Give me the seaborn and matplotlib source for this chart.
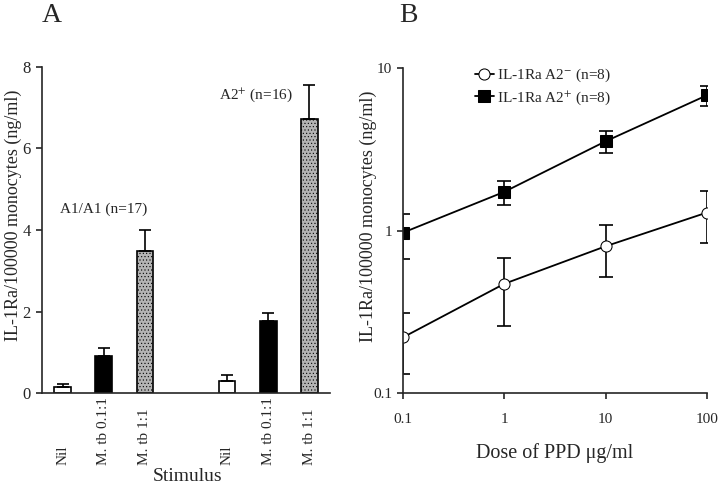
import numpy as np
import pandas as pd
import seaborn as sns
import matplotlib.pyplot as plt
from matplotlib.ticker import FixedLocator, NullLocator, FixedFormatter

# Panel A data
stimulus = ['Nil', 'M. tb 0.1:1', 'M. tb 1:1', 'Nil', 'M. tb 0.1:1', 'M. tb 1:1']
group = ['A1/A1', 'A1/A1', 'A1/A1', 'A2+', 'A2+', 'A2+']
position = [0, 1, 2, 4, 5, 6]
il1ra = [0.15, 0.92, 3.48, 0.29, 1.77, 6.72]
il1ra_err = [0.06, 0.19, 0.52, 0.15, 0.19, 0.84]

# Panel B data
dose = [0.1, 1, 10, 100]
a2_neg = [0.22, 0.47, 0.80, 1.29]
a2_neg_err = [0.09, 0.21, 0.28, 0.45]
a2_pos = [0.97, 1.73, 3.54, 6.8]
a2_pos_err = [0.30, 0.29, 0.53, 1.0]

sns.set_style('ticks')
plt.rcParams['font.family'] = ['Liberation Serif', 'DejaVu Serif']
plt.rcParams['mathtext.fontset'] = 'stix'
plt.rcParams['axes.linewidth'] = 1.2
plt.rcParams['hatch.color'] = '#555555'
plt.rcParams['hatch.linewidth'] = 0.4

fig = plt.figure(figsize=(7.2, 4.86), dpi=100)
ax1 = fig.add_axes([42/720, 1-393/486, 288/720, 326/486])
ax2 = fig.add_axes([403/720, 1-393/486, 304/720, 325/486])

# ---- Panel A: bar chart
df = pd.DataFrame({'pos': position, 'stim': stimulus, 'val': il1ra, 'group': group})
bar_colors = {'Nil': 'white', 'M. tb 0.1:1': 'black', 'M. tb 1:1': '#b4b4b4'}
sns.barplot(ax=ax1, data=df, x='pos', y='val', hue='stim', palette=bar_colors,
            native_scale=True, dodge=False, width=0.4, edgecolor='black',
            linewidth=1.2, legend=False, errorbar=None)
for p in ax1.patches:
    if 0.6 < p.get_facecolor()[0] < 0.8:
        p.set_hatch('.....')
ax1.errorbar(position, il1ra, yerr=[np.zeros(len(il1ra)), il1ra_err], fmt='none',
             ecolor='black', elinewidth=1.2, capsize=4, capthick=1.2)
ax1.set_xlim(-0.5, 6.5)
ax1.set_ylim(0, 8)
ax1.set_yticks([0, 2, 4, 6, 8])
ax1.set_xticks(position)
ax1.set_xticklabels(stimulus, rotation=90, va='bottom')
ax1.tick_params(axis='x', length=0, labelsize=11, pad=52)
ax1.tick_params(axis='y', labelsize=12, direction='out', length=4.5, width=1.2)
ax1.set_xlabel('')
ax1.set_ylabel('IL-1Ra/100000 monocytes (ng/ml)', fontsize=13)
ax1.yaxis.set_label_coords(-0.07, 0.545)
sns.despine(ax=ax1)
ax1.text(1.0, 4.35, 'A1/A1 (n=17)', ha='center', va='bottom', fontsize=11)
ax1.text(4.7, 7.1, 'A2$^{+}$ (n=16)', ha='center', va='bottom', fontsize=11)
fig.text(188/720, 1-476/486, 'Stimulus', fontsize=14, ha='center', va='center')

# ---- Panel B: log-log dose response
dfb = pd.DataFrame({'dose': dose * 2, 'val': a2_neg + a2_pos,
                    'series': ['IL-1Ra A2$^{-}$ (n=8)'] * 4 + ['IL-1Ra A2$^{+}$ (n=8)'] * 4})
ax2.errorbar(dose, a2_neg, yerr=a2_neg_err, fmt='none', ecolor='black',
             elinewidth=1.2, capsize=5, capthick=1.2)
ax2.errorbar(dose, a2_pos, yerr=a2_pos_err, fmt='none', ecolor='black',
             elinewidth=1.2, capsize=5, capthick=1.2)
sns.lineplot(ax=ax2, data=dfb, x='dose', y='val', hue='series', style='series',
             palette=['black', 'black'], markers=['o', 's'], dashes=False,
             markersize=8, linewidth=1.3, markeredgecolor='black')
for ln in ax2.get_lines():
    if ln.get_marker() == 'o':
        ln.set_markerfacecolor('white')
ax2.set_xscale('log')
ax2.set_yscale('log')
ax2.set_xlim(0.1, 100)
ax2.set_ylim(0.1, 10)
ax2.xaxis.set_major_locator(FixedLocator(dose))
ax2.xaxis.set_major_formatter(FixedFormatter(['0.1', '1', '10', '100']))
ax2.xaxis.set_minor_locator(NullLocator())
ax2.yaxis.set_major_locator(FixedLocator([0.1, 1, 10]))
ax2.yaxis.set_major_formatter(FixedFormatter(['0.1', '1', '10']))
ax2.yaxis.set_minor_locator(NullLocator())
ax2.tick_params(labelsize=11, direction='out', length=4.5, width=1.2)
ax2.tick_params(axis='x', pad=10)
ax2.set_xlabel('Dose of PPD μg/ml', fontsize=14.5, labelpad=12)
ax2.set_ylabel('IL-1Ra/100000 monocytes (ng/ml)', fontsize=13)
ax2.yaxis.set_label_coords(-0.0855, 0.545)
sns.despine(ax=ax2)
leg = ax2.legend(loc='upper left', bbox_to_anchor=(0.19, 1.045), frameon=False,
                 fontsize=11, handlelength=1.3, handletextpad=0.2, labelspacing=0.3)
for h in leg.legend_handles:
    if h.get_marker() == 'o':
        h.set_markerfacecolor('white')

fig.text(52/720, 1-15/486, 'A', fontsize=20, ha='center', va='center')
fig.text(408/720, 1-15/486, 'B', fontsize=20, ha='center', va='center')

fig.savefig('out.png', dpi=100)
